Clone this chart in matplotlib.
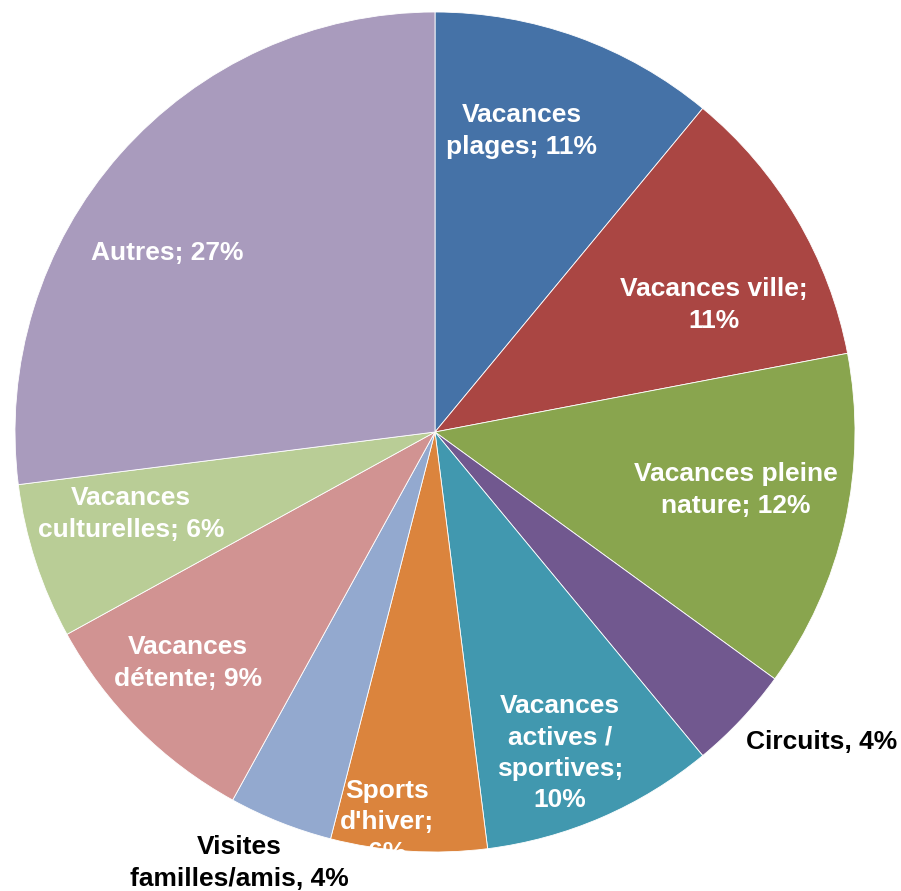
import matplotlib
matplotlib.use('Agg')
import matplotlib.pyplot as plt

# shares (labels keep the printed percentages)
categories = ['Vacances plages', 'Vacances ville', 'Vacances pleine nature',
              'Circuits', 'Vacances actives / sportives', "Sports d'hiver",
              'Visites familles/amis', 'Vacances détente',
              'Vacances culturelles', 'Autres']
shares = [11, 11, 13, 4, 9, 6, 4, 9, 6, 27]
labels = ['Vacances\nplages; 11%', 'Vacances ville;\n11%',
          'Vacances pleine\nnature; 12%', 'Circuits, 4%',
          'Vacances\nactives /\nsportives;\n10%', "Sports\nd'hiver;\n6%",
          'Visites\nfamilles/amis, 4%', 'Vacances\ndétente; 9%',
          'Vacances\nculturelles; 6%', 'Autres; 27%']
colors = ['#4572A7', '#AA4643', '#89A54E', '#71588F', '#4198AF',
          '#DB843D', '#93A9CF', '#D19392', '#B9CD96', '#A99BBD']

W, H = 901, 891
# label centres in pixel coords (from top-left) and text colour
label_pos = [(522, 131), (714, 305), (736, 490), (822, 742), (560, 753),
             (387, 822), (239, 863), (188, 663), (131, 514), (167, 253)]
label_col = ['white', 'white', 'white', 'black', 'white',
             'white', 'black', 'white', 'white', 'white']

fig = plt.figure(figsize=(W / 100, H / 100), dpi=100)
ax = fig.add_axes([0, 0, 1, 1])

ax.pie(shares, colors=colors, startangle=90, counterclock=False,
       center=(435, H - 432), radius=420, frame=True,
       wedgeprops=dict(edgecolor='white', linewidth=0.6))
ax.set_xlim(0, W)
ax.set_ylim(0, H)
ax.set_aspect('equal')
ax.axis('off')

for text, (x, y), c in zip(labels, label_pos, label_col):
    ax.text(x, H - y, text, color=c, fontsize=19, fontweight='bold',
            family=['Liberation Sans', 'DejaVu Sans'],
            ha='center', va='center', multialignment='center',
            linespacing=1.38)

fig.savefig('out.png', dpi=100)
